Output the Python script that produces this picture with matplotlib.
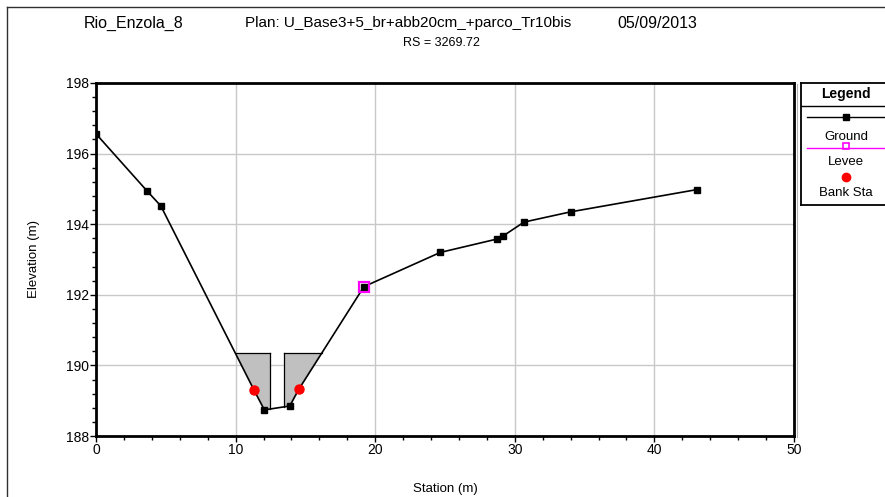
import numpy as np
import matplotlib
matplotlib.use("Agg")
import matplotlib.pyplot as plt
from matplotlib.lines import Line2D
from matplotlib.ticker import MultipleLocator

plt.rcParams['font.family'] = ['Liberation Sans', 'DejaVu Sans']

# ---- data ----
station = [0.0, 3.66, 4.64, 11.32, 12.06, 13.88, 14.52, 19.19, 24.66, 28.73, 29.14, 30.66, 34.0, 43.04]
elevation = [196.56, 194.94, 194.52, 189.30, 188.74, 188.85, 189.32, 192.23, 193.20, 193.58, 193.66, 194.06, 194.35, 194.98]
levee_station = [19.19]
levee_elev = [192.23]
bank_station = [11.32, 14.52]
bank_elev = [189.30, 189.32]
obstruction_left = [10.0, 12.49]
obstruction_right = [13.47, 16.16]
obstruction_elev = 190.34

title_river = "Rio_Enzola_8"
title_plan = "Plan: U_Base3+5_br+abb20cm_+parco_Tr10bis"
title_date = "05/09/2013"
title_rs = "RS = 3269.72"

W, H = 885, 497
fig = plt.figure(figsize=(W / 100, H / 100), dpi=100)

def fx(px):
    return px / W

def fy(py):
    return 1 - py / H

# outer frame (top and left visible)
fig.add_artist(Line2D([fx(7), 1.01], [fy(7), fy(7)], color='#303030', lw=1.0))
fig.add_artist(Line2D([fx(7), fx(7)], [fy(7), -0.01], color='#303030', lw=1.0))
# light shadow line right of the plot area
fig.add_artist(Line2D([fx(796.5), fx(796.5)], [fy(84), fy(437)], color='#b4b4b4', lw=0.8))

ax = fig.add_axes([fx(96), fy(436), fx(794) - fx(96), fy(83) - fy(436)])

# obstructions (grey blocks)
st = np.array(station)
el = np.array(elevation)
for (a, b), inner in ((obstruction_left, 'right'), (obstruction_right, 'left')):
    xs = np.linspace(a, b, 200)
    gs = np.interp(xs, st, el)
    ax.fill_between(xs, gs, obstruction_elev, color='#c0c0c0', lw=0, zorder=2)
    ax.plot([a, b], [obstruction_elev, obstruction_elev], color='black', lw=0.9, zorder=3)
    xi = b if inner == 'right' else a
    ax.plot([xi, xi], [obstruction_elev, np.interp(xi, st, el)], color='black', lw=0.9, zorder=3)

ax.plot(station, elevation, color='black', lw=1.2, marker='s', ms=4.8, zorder=4)
ax.plot(levee_station, levee_elev, ls='none', marker='s', ms=7, mfc='none', mec='magenta', mew=1.6, zorder=5)
ax.plot(bank_station, bank_elev, ls='none', marker='o', ms=6.5, color='red', zorder=6)

ax.set_xlim(0, 50)
ax.set_ylim(188, 198)
ax.xaxis.set_major_locator(MultipleLocator(10))
ax.xaxis.set_minor_locator(MultipleLocator(2))
ax.yaxis.set_major_locator(MultipleLocator(2))
ax.yaxis.set_minor_locator(MultipleLocator(0.4))
ax.grid(True, which='major', color='#c8c8c8', lw=1.0, zorder=0)
ax.set_axisbelow(True)
for s in ax.spines.values():
    s.set_linewidth(2.0)
    s.set_color('black')
ax.tick_params(which='major', direction='out', length=4, width=1.0, labelsize=10, pad=1)
ax.tick_params(which='minor', direction='out', length=3, width=1.0)
ax.set_xlabel("Station (m)", fontsize=9.5, labelpad=19)
ax.set_ylabel("Elevation (m)", fontsize=9.5, labelpad=19)

# titles
fig.text(fx(134), fy(23), title_river, fontsize=11.5, ha='center', va='center')
fig.text(fx(408), fy(23), title_plan, fontsize=11, ha='center', va='center')
fig.text(fx(657), fy(23), title_date, fontsize=11.5, ha='center', va='center')
fig.text(fx(441), fy(43), title_rs, fontsize=9, ha='center', va='center')

# legend box
lg = fig.add_axes([fx(801), fy(205), fx(892) - fx(801), fy(83) - fy(205)])
lg.set_xlim(801, 892)
lg.set_ylim(205, 83)
lg.set_xticks([])
lg.set_yticks([])
for s in lg.spines.values():
    s.set_linewidth(1.3)
lg.plot([801, 892], [106, 106], color='black', lw=1.0)
lg.text(846, 94, "Legend", fontsize=10, fontweight='bold', ha='center', va='center')
lg.plot([807, 886], [117, 117], color='black', lw=1.0)
lg.plot([846], [117], marker='s', ms=5, color='black')
lg.text(846, 137, "Ground", fontsize=9.5, ha='center', va='center')
lg.plot([807, 886], [148, 148], color='magenta', lw=1.0)
lg.plot([846], [146], marker='s', ms=5, mfc='none', mec='magenta', mew=1.2)
lg.text(846, 162, "Levee", fontsize=9.5, ha='center', va='center')
lg.plot([846], [177], marker='o', ms=6, color='red')
lg.text(846, 193, "Bank Sta", fontsize=9.5, ha='center', va='center')

fig.savefig("out.png", dpi=100)
